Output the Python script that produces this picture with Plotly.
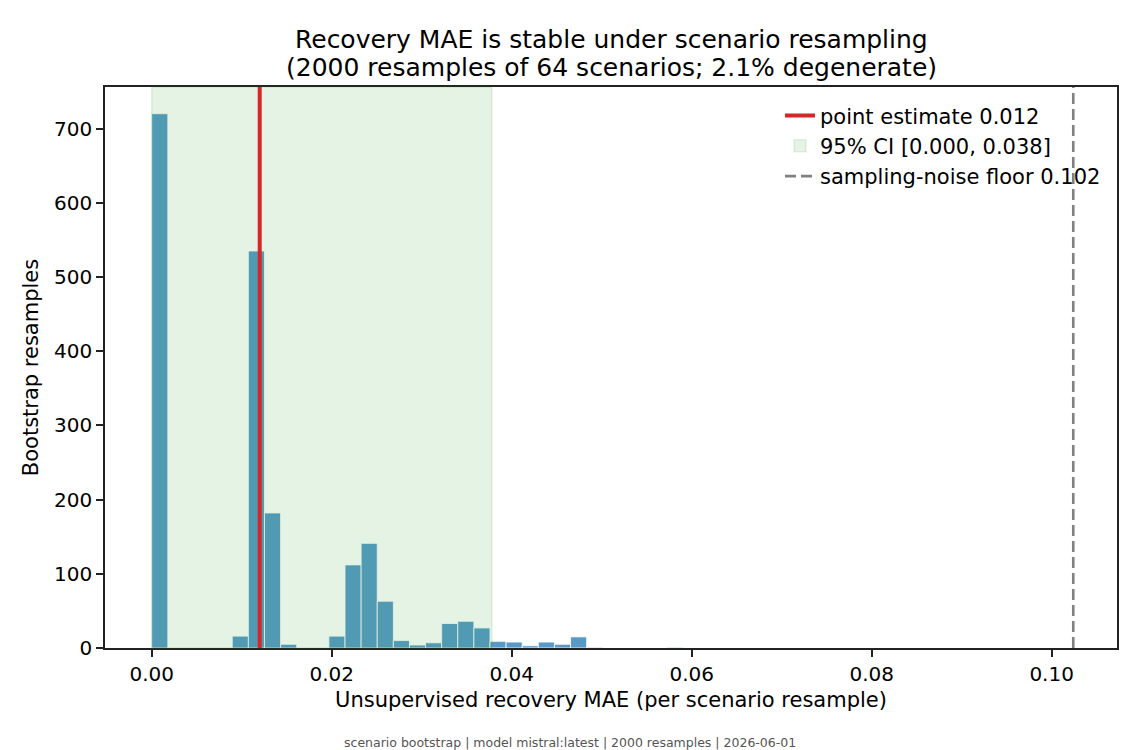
import plotly.graph_objects as go

# ---- data ----
bin_start = 0.0
bin_width = 0.00179
counts = [720, 0, 0, 0, 0, 16, 535, 182, 5, 0, 0, 16, 112, 141, 63, 10, 4,
          7, 33, 36, 27, 9, 8, 3, 8, 5, 15, 1, 0, 0, 0, 0, 1]
point_estimate = 0.012
ci_low = 0.000
ci_high = 0.0378
noise_floor = 0.1024
x_ticks = [0.00, 0.02, 0.04, 0.06, 0.08, 0.10]
y_ticks = [0, 100, 200, 300, 400, 500, 600, 700]

title_lines = ["Recovery MAE is stable under scenario resampling",
               "(2000 resamples of 64 scenarios; 2.1% degenerate)"]
footer = "scenario bootstrap | model mistral:latest | 2000 resamples | 2026-06-01"

FONT = "DejaVu Sans"
PLOT_L, PLOT_R, PLOT_T, PLOT_B = 105, 1117, 87, 648
PW, PH = PLOT_R - PLOT_L, PLOT_B - PLOT_T


def px_x(px):
    return (px - PLOT_L) / PW


def px_y(py):
    return (PLOT_B - py) / PH


centers = [bin_start + (i + 0.5) * bin_width for i in range(len(counts))]

fig = go.Figure()
fig.add_trace(go.Bar(
    x=centers, y=counts, width=[bin_width] * len(counts),
    marker=dict(color="rgba(31,119,180,0.75)",
                line=dict(color="rgba(255,255,255,0.8)", width=1)),
    showlegend=False, hoverinfo="x+y"))

# CI span drawn over the bars (like matplotlib axvspan with alpha)
fig.add_shape(type="rect", xref="x", yref="y domain",
              x0=ci_low, x1=ci_high, y0=0, y1=1, layer="above",
              fillcolor="rgba(44,160,44,0.13)",
              line=dict(color="rgba(44,160,44,0.13)", width=1.5),
              showlegend=True, legendrank=2,
              name=f"95% CI [{ci_low:.3f}, {ci_high:.3f}]")
fig.add_shape(type="line", xref="x", yref="y domain",
              x0=point_estimate, x1=point_estimate, y0=0, y1=1, layer="above",
              line=dict(color="#d62728", width=4),
              showlegend=True, legendrank=1,
              name=f"point estimate {point_estimate:.3f}")
fig.add_shape(type="line", xref="x", yref="y domain",
              x0=noise_floor, x1=noise_floor, y0=0, y1=1, layer="above",
              line=dict(color="gray", width=2.6, dash="11px,5px"),
              showlegend=True, legendrank=3,
              name=f"sampling-noise floor {noise_floor:.3f}")

axis_common = dict(showline=True, mirror=True, linecolor="#222", linewidth=1.6,
                   ticks="outside", ticklen=7, tickwidth=1.6, tickcolor="#222",
                   showgrid=False, zeroline=False,
                   tickfont=dict(family=FONT, size=20, color="black"))

annotations = [
    dict(text=title_lines[0], xref="paper", yref="paper", x=0.5, y=px_y(39),
         xanchor="center", yanchor="middle", showarrow=False,
         font=dict(family=FONT, size=25, color="black")),
    dict(text=title_lines[1], xref="paper", yref="paper", x=0.5, y=px_y(67),
         xanchor="center", yanchor="middle", showarrow=False,
         font=dict(family=FONT, size=25, color="black")),
    dict(text=footer, xref="paper", yref="paper",
         x=px_x(570), y=px_y(742),
         xanchor="center", yanchor="middle", showarrow=False,
         font=dict(family=FONT, size=12.5, color="#555")),
]

fig.update_layout(
    width=1140, height=750,
    margin=dict(l=PLOT_L, r=1140 - PLOT_R, t=PLOT_T, b=750 - PLOT_B,
                autoexpand=False),
    paper_bgcolor="white", plot_bgcolor="white",
    font=dict(family=FONT, size=20, color="black"),
    xaxis=dict(range=[-0.00519, 0.10726], tickvals=x_ticks,
               ticktext=[f"{v:.2f}" for v in x_ticks],
               title=dict(text="Unsupervised recovery MAE (per scenario resample)",
                          font=dict(family=FONT, size=21), standoff=8),
               **axis_common),
    yaxis=dict(range=[0, 756], tickvals=y_ticks,
               title=dict(text="Bootstrap resamples",
                          font=dict(family=FONT, size=21), standoff=10),
               **axis_common),
    legend=dict(x=px_x(780), y=0.985, xanchor="left", yanchor="top",
                bgcolor="rgba(0,0,0,0)", borderwidth=0,
                font=dict(family=FONT, size=21, color="black"),
                itemwidth=30),
    annotations=annotations,
)

fig.write_html("out.html")
